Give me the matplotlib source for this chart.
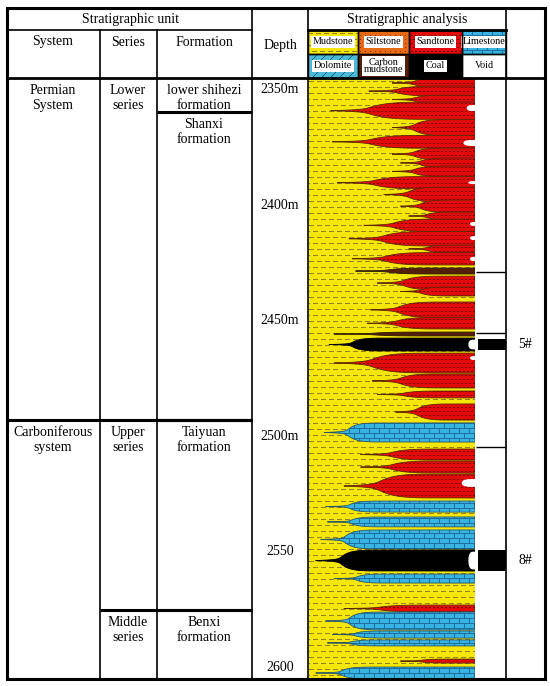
import numpy as np
import matplotlib
matplotlib.use("Agg")
import matplotlib.pyplot as plt
from matplotlib.patches import Polygon, Rectangle

W, H = 550, 686
TOP_DEPTH, BOTTOM_DEPTH = 2345.0, 2605.0

DEPTH_TICKS = [2350, 2400, 2450, 2500, 2550, 2600]
DEPTH_LABELS = ["2350m", "2400m", "2450m", "2500m", "2550", "2600"]

SYSTEMS = [("Permian\nSystem", 2345.0), ("Carboniferous\nsystem", 2493.0)]
SERIES = [("Lower\nseries", 2345.0), ("Upper\nseries", 2493.0), ("Middle\nseries", 2575.2)]
FORMATIONS = [("lower shihezi\nformation", 2345.0), ("Shanxi\nformation", 2359.7),
              ("Taiyuan\nformation", 2493.0), ("Benxi\nformation", 2575.2)]

# lithology lenses: top depth, bottom depth, left tip (fraction of column width), rock type
LENS_TOP = [2345.0, 2348.5, 2352.4, 2355.4, 2363.0, 2369.8, 2375.3, 2379.6, 2383.1, 2387.6,
            2392.2, 2397.8, 2403.0, 2406.0, 2411.4, 2417.3, 2420.5, 2427.2, 2430.7, 2435.4,
            2441.9, 2448.6, 2454.9, 2457.5, 2464.0, 2473.0, 2480.4, 2486.0, 2494.2, 2505.5,
            2510.7, 2516.3, 2528.0, 2534.9, 2540.5, 2549.2, 2559.6, 2573.0, 2576.0, 2584.2,
            2588.1, 2596.4, 2599.8]
LENS_BOTTOM = [2349.3, 2352.8, 2356.2, 2362.9, 2369.9, 2375.4, 2380.5, 2383.9, 2387.7, 2393.0,
               2398.6, 2403.1, 2406.4, 2411.5, 2417.7, 2420.6, 2425.9, 2429.8, 2436.7, 2439.3,
               2448.7, 2453.6, 2456.6, 2463.1, 2472.6, 2479.1, 2483.4, 2493.0, 2502.5, 2510.3,
               2515.9, 2526.7, 2532.8, 2539.2, 2548.8, 2558.3, 2563.5, 2576.0, 2583.8, 2587.3,
               2590.7, 2598.1, 2605.0]
LENS_TIP = [0.50, 0.36, 0.50, 0.13, 0.50, 0.14, 0.50, 0.55, 0.50, 0.17,
            0.45, 0.55, 0.60, 0.33, 0.24, 0.60, 0.26, 0.28, 0.41, 0.55,
            0.37, 0.35, 0.15, 0.12, 0.15, 0.38, 0.41, 0.52, 0.09, 0.31,
            0.31, 0.21, 0.10, 0.11, 0.07, 0.04, 0.15, 0.21, 0.10, 0.14,
            0.11, 0.55, 0.04]
LENS_ROCK = ["sand", "sand", "sand", "sand", "sand", "sand", "sand", "sand", "sand", "sand",
             "sand", "sand", "sand", "sand", "sand", "sand", "sand", "carbon", "sand", "sand",
             "sand", "sand", "carbon", "coal", "sand", "sand", "sand", "sand", "lime", "sand",
             "sand", "sand", "lime", "lime", "lime", "coal", "lime", "sand", "lime", "lime",
             "lime", "sand", "lime"]

# voids at the right edge of the column
VOID_TOP = [2356.7, 2371.8, 2389.6, 2407.3, 2413.4, 2422.4, 2458.2, 2465.3, 2518.5, 2549.9]
VOID_BOTTOM = [2359.3, 2374.4, 2390.9, 2409.0, 2415.1, 2424.2, 2462.4, 2467.0, 2521.9, 2557.6]
VOID_WIDTH = [0.05, 0.07, 0.04, 0.03, 0.03, 0.03, 0.04, 0.03, 0.08, 0.04]

MARKER_DEPTHS = [2428.9, 2455.3, 2504.6]
COAL_NAMES = ["5#", "8#"]
COAL_TOP = [2457.9, 2549.2]
COAL_BOTTOM = [2462.7, 2558.3]

LEGEND_ROW1 = ["Mudstone", "Siltstone", "Sandtone", "Limestone"]
LEGEND_ROW2 = ["Dolomite", "Carbon\nmudstone", "Coal", "Void"]
LEGEND_KIND1 = ["mud", "silt", "sand", "lime"]
LEGEND_KIND2 = ["dolo", "carbon", "coal", "void"]

FONT = "Liberation Serif"
plt.rcParams["font.family"] = [FONT, "DejaVu Serif"]


def texture(kind, h, w):
    r = np.arange(h)[:, None]
    c = np.arange(w)[None, :]
    img = np.zeros((h, w, 3))
    if kind == "mud":
        img[:] = np.array([245, 230, 10]) / 255
        mask = (r % 6 == 3) & (((c + 4 * ((r // 6) % 2)) % 8) < 5)
        img[mask] = np.array([150, 130, 30]) / 255
    elif kind == "sand":
        img[:] = np.array([228, 10, 10]) / 255
        mask = (r % 4 == 1) & (((c + 2 * ((r // 4) % 2)) % 4) < 2)
        img[mask] = np.array([110, 0, 0]) / 255
    elif kind == "lime":
        img[:] = np.array([55, 180, 225]) / 255
        mask = (r % 5 == 0) | ((c + 5 * ((r // 5) % 2)) % 10 == 0)
        img[mask] = np.array([30, 110, 160]) / 255
    elif kind == "silt":
        img[:] = np.array([232, 105, 20]) / 255
        mask = (r % 4 == 1) & (c % 5 == 2)
        img[mask] = np.array([120, 50, 0]) / 255
    elif kind == "dolo":
        img[:] = np.array([75, 185, 215]) / 255
        mask = ((r + c) % 9 == 0) & (r % 9 < 6)
        img[mask] = np.array([20, 90, 110]) / 255
    elif kind == "carbon":
        img[:] = np.array([85, 30, 10]) / 255
    elif kind == "coal":
        img[:] = 0.0
    else:
        img[:] = 1.0
    return img


def frect(x0, y0, x1, y1):
    return [x0 / W, 1 - y1 / H, (x1 - x0) / W, (y1 - y0) / H]


def lens_outline(top, bottom, tip, rock, n=80):
    # fat body on the right, then a thin spike out to the tip
    s = np.linspace(0, 1, n)
    if rock in ("lime", "coal"):
        g = 0.86 * s ** 0.06 + 0.14 * s ** 14
    else:
        g = 0.78 * s ** 0.15 + 0.22 * s ** 10
    mid = (top + bottom) / 2
    x_half = 1 - (1 - tip) * g
    y_up = top + (mid - top) * s
    y_low = bottom - (bottom - mid) * s
    x = np.concatenate([[1.0], x_half, x_half[::-1][1:], [1.0]])
    y = np.concatenate([[top], y_up, y_low[::-1][1:], [bottom]])
    return np.column_stack([x, y])


fig = plt.figure(figsize=(W / 100, H / 100), dpi=100)

# ---- body axes: pixel x, depth y
body = fig.add_axes(frect(7, 78, 545, 679))
body.set_xlim(7, 545)
body.set_ylim(BOTTOM_DEPTH, TOP_DEPTH)
body.axis("off")

for labels, x0, x1, xc in [(SYSTEMS, 7, 252, 53), (SERIES, 100, 252, 128), (FORMATIONS, 157, 252, 204)]:
    for i, (name, top) in enumerate(labels):
        if i > 0:
            body.hlines(top, x0, x1, color="black", lw=2.2)
        body.annotate(name, (xc, top), xytext=(0, -4), textcoords="offset points",
                      ha="center", va="top", fontsize=10, linespacing=1.25)

for d, lab in zip(DEPTH_TICKS, DEPTH_LABELS):
    body.text(280, d, lab, ha="center", va="center", fontsize=10)

body.hlines(MARKER_DEPTHS, 476, 506, color="black", lw=1.0)
for name, t, b in zip(COAL_NAMES, COAL_TOP, COAL_BOTTOM):
    body.barh((t + b) / 2, 28, left=478, height=b - t, color="black")
    body.text(525, (t + b) / 2, name, ha="center", va="center", fontsize=10)

# ---- lithology column
lith = fig.add_axes(frect(309, 78, 475, 679))
lith.set_xlim(0, 1)
lith.set_ylim(BOTTOM_DEPTH, TOP_DEPTH)
lith.axis("off")
th, tw = 601, 166
ext = (0, 1, BOTTOM_DEPTH, TOP_DEPTH)
lith.imshow(texture("mud", th, tw), extent=ext, aspect="auto", interpolation="nearest", zorder=1)
edge_col = {"sand": "#5a2a00", "lime": "#2a5566", "coal": "black", "carbon": "#2a1a00"}
for k, (t, b, tip, rock) in enumerate(zip(LENS_TOP, LENS_BOTTOM, LENS_TIP, LENS_ROCK)):
    z = 2 + k * 0.01
    poly = Polygon(lens_outline(t, b, tip, rock), closed=True, facecolor="none",
                   edgecolor=edge_col[rock], lw=0.6, zorder=z + 0.005)
    lith.add_patch(poly)
    im = lith.imshow(texture(rock, th, tw), extent=ext, aspect="auto",
                     interpolation="nearest", zorder=z)
    im.set_clip_path(poly)

for t, b, w in zip(VOID_TOP, VOID_BOTTOM, VOID_WIDTH):
    u = np.linspace(0, np.pi, 30)
    xs = 1 - w * np.sin(u) ** 0.5
    ys = t + (b - t) * (1 - np.cos(u)) / 2
    lith.add_patch(Polygon(np.column_stack([xs, ys]), closed=True, facecolor="white",
                           edgecolor="none", zorder=5))

# ---- frame / header axes in pixel coordinates
frame = fig.add_axes([0, 0, 1, 1])
frame.set_xlim(0, W)
frame.set_ylim(H, 0)
frame.axis("off")
frame.patch.set_alpha(0)

# legend cells
cells_x = [308, 358, 409, 462, 506]
for row, (names, kinds, y0, y1) in enumerate([(LEGEND_ROW1, LEGEND_KIND1, 30, 54),
                                               (LEGEND_ROW2, LEGEND_KIND2, 54, 78)]):
    for i, (name, kind) in enumerate(zip(names, kinds)):
        x0, x1 = cells_x[i], cells_x[i + 1]
        frame.imshow(texture(kind, y1 - y0, x1 - x0), extent=(x0, x1, y1, y0),
                     aspect="auto", interpolation="nearest", zorder=2)
        box = None if kind == "void" else dict(boxstyle="square,pad=0.15", fc="white", ec="none")
        frame.text((x0 + x1) / 2, (y0 + y1) / 2, name, ha="center", va="center", fontsize=7.3,
                   linespacing=0.8, bbox=box, zorder=3)
        frame.add_patch(Rectangle((x0, y0), x1 - x0, y1 - y0, fill=False, ec="black", lw=1.0, zorder=4))

frame.add_patch(Rectangle((7, 8), 538, 671, fill=False, ec="black", lw=2.2, zorder=6))
frame.plot([7, 252], [30, 30], color="black", lw=1.2, zorder=5)
frame.plot([308, 506], [30, 30], color="black", lw=2.0, zorder=5)
frame.plot([7, 545], [78, 78], color="black", lw=2.0, zorder=5)
for x, y0 in [(100, 30), (157, 30), (252, 8), (308, 8), (506, 8)]:
    frame.plot([x, x], [y0, 679], color="black", lw=1.2, zorder=5)

frame.text(130, 19, "Stratigraphic unit", ha="center", va="center", fontsize=10)
frame.text(407, 19, "Stratigraphic analysis", ha="center", va="center", fontsize=10)
frame.text(53, 42, "System", ha="center", va="center", fontsize=10)
frame.text(128, 42, "Series", ha="center", va="center", fontsize=10)
frame.text(204, 42, "Formation", ha="center", va="center", fontsize=10)
frame.text(280, 45, "Depth", ha="center", va="center", fontsize=10)

fig.savefig("out.png", dpi=100)
